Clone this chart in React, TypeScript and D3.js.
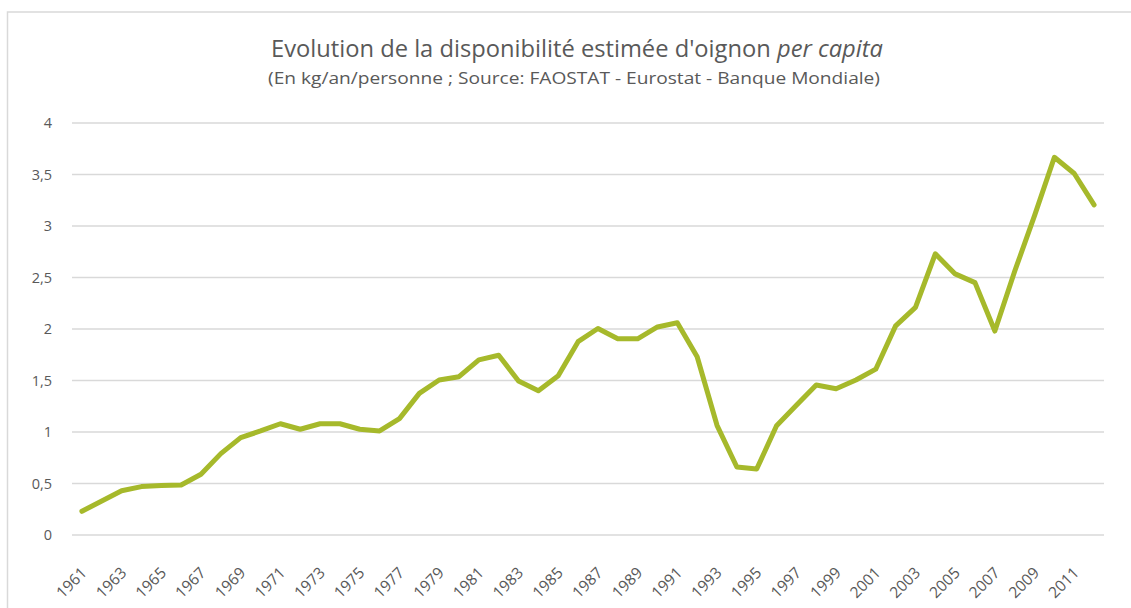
import React from "react";
import * as d3 from "d3";

const years: number[] = [
  1961, 1962, 1963, 1964, 1965, 1966, 1967, 1968, 1969, 1970,
  1971, 1972, 1973, 1974, 1975, 1976, 1977, 1978, 1979, 1980,
  1981, 1982, 1983, 1984, 1985, 1986, 1987, 1988, 1989, 1990,
  1991, 1992, 1993, 1994, 1995, 1996, 1997, 1998, 1999, 2000,
  2001, 2002, 2003, 2004, 2005, 2006, 2007, 2008, 2009, 2010,
  2011, 2012,
];
const values: number[] = [
  0.23, 0.33, 0.43, 0.47, 0.48, 0.485, 0.59, 0.79, 0.945, 1.01,
  1.08, 1.027, 1.08, 1.08, 1.027, 1.01, 1.13, 1.375, 1.505, 1.537,
  1.7, 1.745, 1.495, 1.4, 1.545, 1.877, 2.005, 1.905, 1.905, 2.02,
  2.06, 1.73, 1.065, 0.66, 0.64, 1.06, 1.26, 1.456, 1.42, 1.505,
  1.61, 2.03, 2.21, 2.73, 2.535, 2.45, 1.98, 2.56, 3.1, 3.667,
  3.51, 3.205,
];
const yTicks: number[] = [0, 0.5, 1, 1.5, 2, 2.5, 3, 3.5, 4];
const xTickYears: number[] = years.filter((_, i) => i % 2 === 0 && years[i] <= 2011);

const W = 1131;
const H = 608;
const FONT = "'Open Sans', Lato, sans-serif";
const TEXT = "#595959";

export default function App() {
  const x = d3
    .scaleBand<number>()
    .domain(years)
    .range([72, 1104])
    .padding(0);
  const y = d3.scaleLinear().domain([0, 4]).range([535, 123]);
  const cx = (yr: number) => (x(yr) as number) + x.bandwidth() / 2;
  const line = d3
    .line<number>()
    .x((_, i) => cx(years[i]))
    .y((d) => y(d))
    .curve(d3.curveLinear);
  const fmt = (v: number) => String(v).replace(".", ",");

  return (
    <svg
      width={W}
      height={H}
      style={{ position: "absolute", left: 0, top: 0, display: "block" }}
    >
      <rect x={0} y={0} width={W} height={H} fill="#fff" />
      <rect
        x={7.5}
        y={12}
        width={W + 10}
        height={H + 10}
        fill="none"
        stroke="#d9d9d9"
        strokeWidth={1.5}
      />
      <text
        x={577}
        y={57}
        textAnchor="middle"
        fontFamily={FONT}
        fontSize={23}
        fill={TEXT}
        textLength={612}
        lengthAdjust="spacingAndGlyphs"
      >
        Evolution de la disponibilité estimée d'oignon{" "}
        <tspan fontStyle="italic">per capita</tspan>
      </text>
      <text
        x={574}
        y={84}
        textAnchor="middle"
        fontFamily={FONT}
        fontSize={17}
        fill={TEXT}
        textLength={612}
        lengthAdjust="spacingAndGlyphs"
      >
        (En kg/an/personne ; Source: FAOSTAT - Eurostat - Banque Mondiale)
      </text>
      {yTicks.map((t) => (
        <g key={t}>
          <line
            x1={72}
            x2={1104}
            y1={y(t)}
            y2={y(t)}
            stroke="#d9d9d9"
            strokeWidth={1.3}
          />
          <text
            x={52}
            y={y(t)}
            dy="0.35em"
            textAnchor="end"
            fontFamily={FONT}
            fontSize={14.5}
            fill={TEXT}
          >
            {fmt(t)}
          </text>
        </g>
      ))}
      {xTickYears.map((yr) => (
        <text
          key={yr}
          transform={`translate(${cx(yr) + 2},${570}) rotate(-45)`}
          textAnchor="end"
          fontFamily={FONT}
          fontSize={15.5}
          fill={TEXT}
          dy="0.35em"
        >
          {yr}
        </text>
      ))}
      <path
        d={line(values) || ""}
        fill="none"
        stroke="#A6B92B"
        strokeWidth={5}
        strokeLinejoin="round"
        strokeLinecap="round"
      />
    </svg>
  );
}
